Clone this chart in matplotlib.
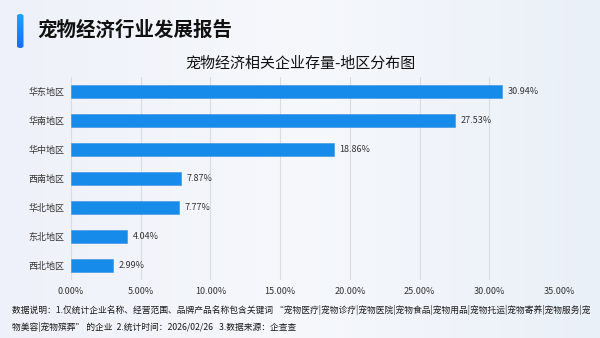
import matplotlib.pyplot as plt
import numpy as np
from matplotlib.colors import LinearSegmentedColormap
from matplotlib.patches import FancyBboxPatch

plt.rcParams['font.family'] = ['Noto Sans CJK SC', 'DejaVu Sans']

regions = ["华东地区", "华南地区", "华中地区", "西南地区", "华北地区", "东北地区", "西北地区"]
shares = [30.94, 27.53, 18.86, 7.87, 7.77, 4.04, 2.99]
xticks = [0, 5, 10, 15, 20, 25, 30, 35]

BAR_COLOR = "#168BEA"

fig = plt.figure(figsize=(6, 3.38), dpi=100)

# background gradient
bg = fig.add_axes([0, 0, 1, 1], zorder=-10)
grad = np.linspace(0, 1, 256).reshape(1, -1)
bg.imshow(grad, aspect="auto", extent=[0, 1, 0, 1],
          cmap=LinearSegmentedColormap.from_list(
              "bg", ["#eef1f9", "#f6f8fc", "#eaf0f8"]))
bg.set_xlim(0, 1)
bg.set_ylim(0, 1)
bg.axis("off")

# header accent bar with vertical gradient
acc = FancyBboxPatch((17 / 600, 1 - 48 / 338), 6.5 / 600, 34 / 338,
                     boxstyle="round,pad=0,rounding_size=0.0055",
                     transform=bg.transAxes, facecolor="none", edgecolor="none")
bg.add_patch(acc)
vgrad = np.linspace(0, 1, 64).reshape(-1, 1)
im = bg.imshow(vgrad, aspect="auto",
               extent=[17 / 600, 23.5 / 600, 1 - 48 / 338, 1 - 14 / 338],
               cmap=LinearSegmentedColormap.from_list("acc", ["#1a6cf5", "#1fa2ff"]),
               origin="lower")
im.set_clip_path(acc)

fig.text(37 / 600, 1 - 30 / 338, "宠物经济行业发展报告", fontsize=14,
         fontweight="bold", va="center", color="#111111")

ax = fig.add_axes([71 / 600, 1 - 280 / 338, 488 / 600, 203 / 338])
ax.patch.set_alpha(0)
y = np.arange(len(regions))
ax.barh(y, shares, height=0.42, color=BAR_COLOR, edgecolor="#3d8fdc",
        linewidth=0.4, zorder=3)
for yi, v in zip(y, shares):
    ax.text(v + 0.4, yi, f"{v:.2f}%", va="center", ha="left",
            fontsize=6.5, color="#333333")
ax.set_ylim(len(regions) - 0.5, -0.5)
ax.set_xlim(0, 35)
ax.set_yticks(y)
ax.set_yticklabels(regions, fontsize=6.5, color="#333333")
ax.set_xticks(xticks)
ax.set_xticklabels([f"{t:.2f}%" for t in xticks], fontsize=6.5, color="#333333")
ax.tick_params(length=0, pad=5)
ax.tick_params(axis="y", pad=5)
ax.grid(axis="x", color="#d9dde3", linewidth=0.8, zorder=0)
for s in ax.spines.values():
    s.set_visible(False)

fig.text(0.5, 1 - 64 / 338, "宠物经济相关企业存量-地区分布图", ha="center",
         va="center", fontsize=10.8, color="#111111")

fig.text(12 / 600, 1 - 310 / 338,
         "数据说明：1.仅统计企业名称、经营范围、品牌产品名称包含关键词 “宠物医疗|宠物诊疗|宠物医院|宠物食品|宠物用品|宠物托运|宠物寄养|宠物服务|宠",
         fontsize=6.3, va="center", color="#1a1a1a")
fig.text(12 / 600, 1 - 327 / 338,
         "物美容|宠物殡葬” 的企业  2.统计时间：2026/02/26   3.数据来源：企查查",
         fontsize=6.3, va="center", color="#1a1a1a")

fig.savefig("out.png", dpi=100)
